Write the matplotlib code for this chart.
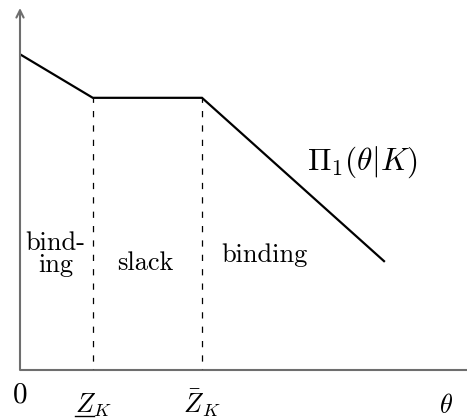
import matplotlib
matplotlib.use("Agg")
import matplotlib.pyplot as plt
from matplotlib.lines import Line2D

plt.rcParams["font.family"] = "serif"
plt.rcParams["font.serif"] = ["cmr10", "DejaVu Serif"]
plt.rcParams["mathtext.fontset"] = "cm"
plt.rcParams["axes.formatter.use_mathtext"] = True

# Piecewise-linear profit as a function of theta
theta = [0, 2, 5, 10]
profit = [11.6, 10, 10, 4]
# Regime boundaries (underlined Z_K and bar Z_K)
boundaries = [2, 5]
boundary_labels = [r"$Z_K$", r"$\bar{Z}_K$"]
boundary_underline = [True, False]
regions = ["bind-\ning", "slack", "binding"]
region_x = [0.98, 3.45, 6.72]
region_y = [4.41, 3.67, 3.97]

xmax, ymax = 12.28, 13.3

fig = plt.figure(figsize=(4.67, 4.2), dpi=100)
ax = fig.add_axes([20 / 467, 50 / 420, 447 / 467, 362 / 420])
ax.set_xlim(0, xmax)
ax.set_ylim(0, ymax)
ax.axis("off")

axis_col = "#6e6e6e"
ax.plot([0, xmax], [0, 0], color=axis_col, lw=1.5, solid_capstyle="butt", clip_on=False)
ax.annotate("", xy=(0, ymax), xytext=(0, 0),
            arrowprops=dict(arrowstyle="->", color=axis_col, lw=1.5,
                            shrinkA=0, shrinkB=0, mutation_scale=13),
            annotation_clip=False)

ax.plot(theta, profit, color="black", lw=1.6, solid_joinstyle="miter")

# Dashed drop lines from the kinks down to the theta axis
for b in boundaries:
    ax.plot([b, b], [profit[theta.index(b)], 0], color="black", lw=0.9,
            linestyle=(1.5, (5, 6.5)))

ax.text(0, -1.21, "0", fontsize=21, ha="center", va="baseline")
label_texts = []
for b, lab in zip(boundaries, boundary_labels):
    label_texts.append(ax.text(b, -1.58, lab, fontsize=19, ha="center", va="baseline"))
ax.text(11.7, -1.58, r"$\theta$", fontsize=19, ha="center", va="baseline")

ax.text(9.42, 7.35, r"$\Pi_1(\theta|K)$", fontsize=22.5, ha="center", va="baseline")

line_gap = 0.8
for x, y, lab in zip(region_x, region_y, regions):
    for i, line in enumerate(lab.split("\n")):
        ax.text(x, y - i * line_gap, line, fontsize=19, ha="center", va="baseline")

# Underline the Z of the lower boundary label
fig.canvas.draw()
renderer = fig.canvas.get_renderer()
inv = fig.transFigure.inverted()
for t, ul in zip(label_texts, boundary_underline):
    if not ul:
        continue
    bb = t.get_window_extent(renderer)
    probe = ax.text(0, 0, r"$Z$", fontsize=19, transform=None)
    zb = probe.get_window_extent(renderer)
    probe.remove()
    base = ax.transData.transform((0, t.get_position()[1]))[1]
    y = base - 2.5
    x0 = bb.x0 + 0.5
    x1 = bb.x0 + zb.width - 2.0
    (fx0, fy), (fx1, _) = inv.transform([(x0, y), (x1, y)])
    fig.add_artist(Line2D([fx0, fx1], [fy, fy], color="black", lw=1.0,
                          transform=fig.transFigure))

fig.savefig("out.png", dpi=100)
